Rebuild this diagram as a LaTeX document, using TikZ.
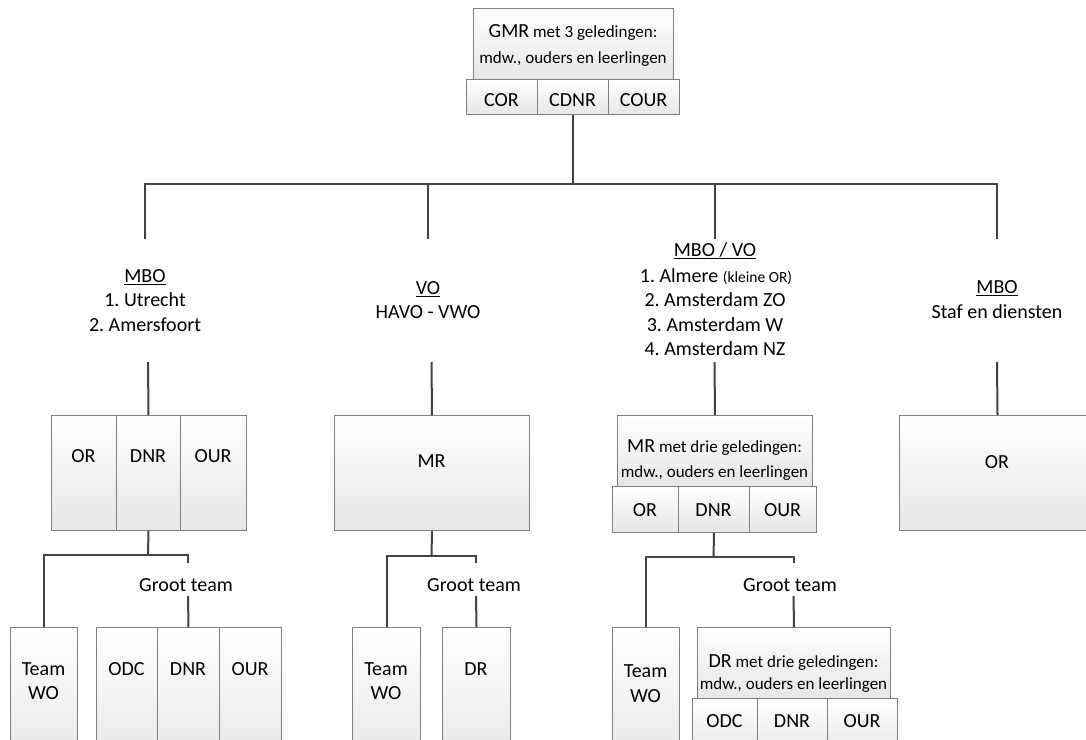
\documentclass[tikz,border=0pt]{standalone}
\usepackage{fontspec}
\setmainfont{Carlito}
\usetikzlibrary{calc}
\frenchspacing
\definecolor{cellline}{HTML}{7F7F7F}
\definecolor{wirecol}{HTML}{424242}
\definecolor{cellbot}{HTML}{E6E6E6}
\newcommand\ulin[1]{\setbox0\hbox{#1}\rlap{\rule[-3pt]{\wd0}{1.3pt}}\box0}
\newcommand\bigsz{\fontsize{20}{24}\selectfont}
\newcommand\smsz{\fontsize{17}{20}\selectfont}
\newcommand\tinysz{\fontsize{15.5}{18}\selectfont}
\tikzset{
 cell/.style={draw=cellline, line width=1pt, top color=white, bottom color=cellbot, inner sep=0pt, anchor=north west, rectangle},
 wire/.style={draw=wirecol, line width=2pt},
 lbl/.style={font=\bigsz, inner sep=0pt, anchor=base},
 slbl/.style={font=\smsz, inner sep=0pt, anchor=base},
}
\newcommand\mkcell[5]{\node[cell, minimum width=#4pt, minimum height=#5pt] (#1) at (#2,#3) {};}
\begin{document}
\begin{tikzpicture}[x=1pt,y=-1pt]
\useasboundingbox (0,0) rectangle (1086,739);
\clip (0,0) rectangle (1086,739);
\fill[white] (0,0) rectangle (1086,739);

% ---------- top ----------
\mkcell{gmr}{473}{8}{200}{71}
\mkcell{cor}{466}{79}{71}{35}
\mkcell{cdnr}{537}{79}{71}{35}
\mkcell{cour}{608}{79}{71}{35}
\node[slbl] (gmrA) at (573,37) {{\bigsz GMR} met 3 geledingen:};
\node[slbl] (gmrB) at (573,63) {mdw., ouders en leerlingen};
\node[lbl] (corT) at (501.5,106) {COR};
\node[lbl] (cdnrT) at (572.5,106) {CDNR};
\node[lbl] (courT) at (643.5,106) {COUR};

% ---------- column labels ----------
\node[lbl] (m1a) at (145,282) {\ulin{MBO}};
\node[lbl] (m1b) at (145,306) {1. Utrecht};
\node[lbl] (m1c) at (145,331) {2. Amersfoort};

\node[lbl] (m2a) at (428,294) {\ulin{VO}};
\node[lbl] (m2b) at (428,318) {HAVO - VWO};

\node[lbl] (m3a) at (715,256) {\ulin{MBO / VO}};
\node[lbl] (m3b) at (716,282) {1. Almere {\tinysz(kleine OR)}};
\node[lbl] (m3c) at (715,306) {2. Amsterdam ZO};
\node[lbl] (m3d) at (715,331) {3. Amsterdam W};
\node[lbl] (m3e) at (715,355) {4. Amsterdam NZ};

\node[lbl] (m4a) at (997,293) {\ulin{MBO}};
\node[lbl] (m4b) at (997,318) {Staf en diensten};

% ---------- second level ----------
\mkcell{or1}{51}{415}{65}{115}
\mkcell{dnr1}{116}{415}{64}{115}
\mkcell{our1}{180}{415}{66}{115}
\node[lbl] (or1T) at (83.5,462) {OR};
\node[lbl] (dnr1T) at (148,462) {DNR};
\node[lbl] (our1T) at (213,462) {OUR};

\mkcell{mr2}{334}{415}{195}{115}
\node[lbl] (mr2T) at (431.5,467) {MR};

\mkcell{mr3}{617}{415}{195}{71}
\mkcell{or3}{612}{486}{66}{46}
\mkcell{dnr3}{678}{486}{71}{46}
\mkcell{our3}{749}{486}{67}{46}
\node[slbl] (mr3A) at (714.5,452) {{\bigsz MR} met drie geledingen:};
\node[slbl] (mr3B) at (714.5,477) {mdw., ouders en leerlingen};
\node[lbl] (or3T) at (645,516) {OR};
\node[lbl] (dnr3T) at (713.5,516) {DNR};
\node[lbl] (our3T) at (782.5,516) {OUR};

\mkcell{or4}{899}{415}{196}{115}
\node[lbl] (or4T) at (997,468) {OR};

% ---------- third level ----------
\mkcell{tw1}{10}{627}{67}{140}
\mkcell{odc1}{96}{627}{61}{140}
\mkcell{dnr1b}{157}{627}{62}{140}
\mkcell{our1b}{219}{627}{62}{140}
\node[lbl] (tw1A) at (43.5,675) {Team};
\node[lbl] (tw1B) at (43.5,699) {WO};
\node[lbl] (odc1T) at (126.5,675) {ODC};
\node[lbl] (dnr1bT) at (188,675) {DNR};
\node[lbl] (our1bT) at (250,675) {OUR};
\node[lbl] (g1) at (186,591) {Groot team};

\mkcell{tw2}{352}{627}{68}{140}
\mkcell{dr2}{442}{627}{68}{140}
\node[lbl] (tw2A) at (386,675) {Team};
\node[lbl] (tw2B) at (386,699) {WO};
\node[lbl] (dr2T) at (476,675) {DR};
\node[lbl] (g2) at (474,591) {Groot team};

\mkcell{tw3}{612}{627}{67}{140}
\mkcell{dr3}{697}{627}{193}{71}
\mkcell{odc3}{692}{698}{65}{60}
\mkcell{dnr3b}{757}{698}{70}{60}
\mkcell{our3b}{827}{698}{70}{60}
\node[lbl] (tw3A) at (645.5,677) {Team};
\node[lbl] (tw3B) at (645.5,702) {WO};
\node[slbl] (dr3A) at (793.5,667) {{\bigsz DR} met drie geledingen:};
\node[slbl] (dr3B) at (793.5,689) {mdw., ouders en leerlingen};
\node[lbl] (odc3T) at (724.5,727) {ODC};
\node[lbl] (dnr3bT) at (792,727) {DNR};
\node[lbl] (our3bT) at (862,727) {OUR};
\node[lbl] (g3) at (790,591) {Groot team};

% ---------- connectors ----------
\coordinate (bus) at (573,184);
\coordinate (s1) at (145,239);
\coordinate (s2) at (428,239);
\coordinate (s3) at (715,239);
\coordinate (s4) at (997,239);
\draw[wire] (cdnr.south) -- (bus);
\draw[wire] (s1) |- (bus) -| (s4);
\draw[wire] (s2) -- (s2 |- bus);
\draw[wire] (s3) -- (s3 |- bus);

\coordinate (t1) at (148,362);
\coordinate (t2) at (431.5,362);
\coordinate (t3) at (714.5,362);
\coordinate (t4) at (997,362);
\draw[wire] (t1) -- (dnr1.north);
\draw[wire] (t2) -- (mr2.north);
\draw[wire] (t3) -- (mr3.north);
\draw[wire] (t4) -- (or4.north);

\coordinate (h1) at (148,555);
\coordinate (k1) at (188,555);
\coordinate (g1t) at (188,563);
\coordinate (g1b) at (188,596);
\draw[wire] (dnr1.south) -- (h1);
\draw[wire] (tw1.north) |- (k1) -- (g1t);
\draw[wire] (g1b) -- (dnr1b.north);

\coordinate (h2) at (431.5,556);
\coordinate (k2) at (476,556);
\coordinate (g2t) at (476,563);
\coordinate (g2b) at (476,596);
\draw[wire] (mr2.south) -- (h2);
\draw[wire] (tw2.north) |- (k2) -- (g2t);
\draw[wire] (g2b) -- (dr2.north);

\coordinate (h3) at (713.5,557);
\coordinate (k3) at (793.5,557);
\coordinate (g3t) at (793.5,563);
\coordinate (g3b) at (793.5,596);
\draw[wire] (dnr3.south) -- (h3);
\draw[wire] (tw3.north) |- (k3) -- (g3t);
\draw[wire] (g3b) -- (dr3.north);
\end{tikzpicture}
\end{document}
